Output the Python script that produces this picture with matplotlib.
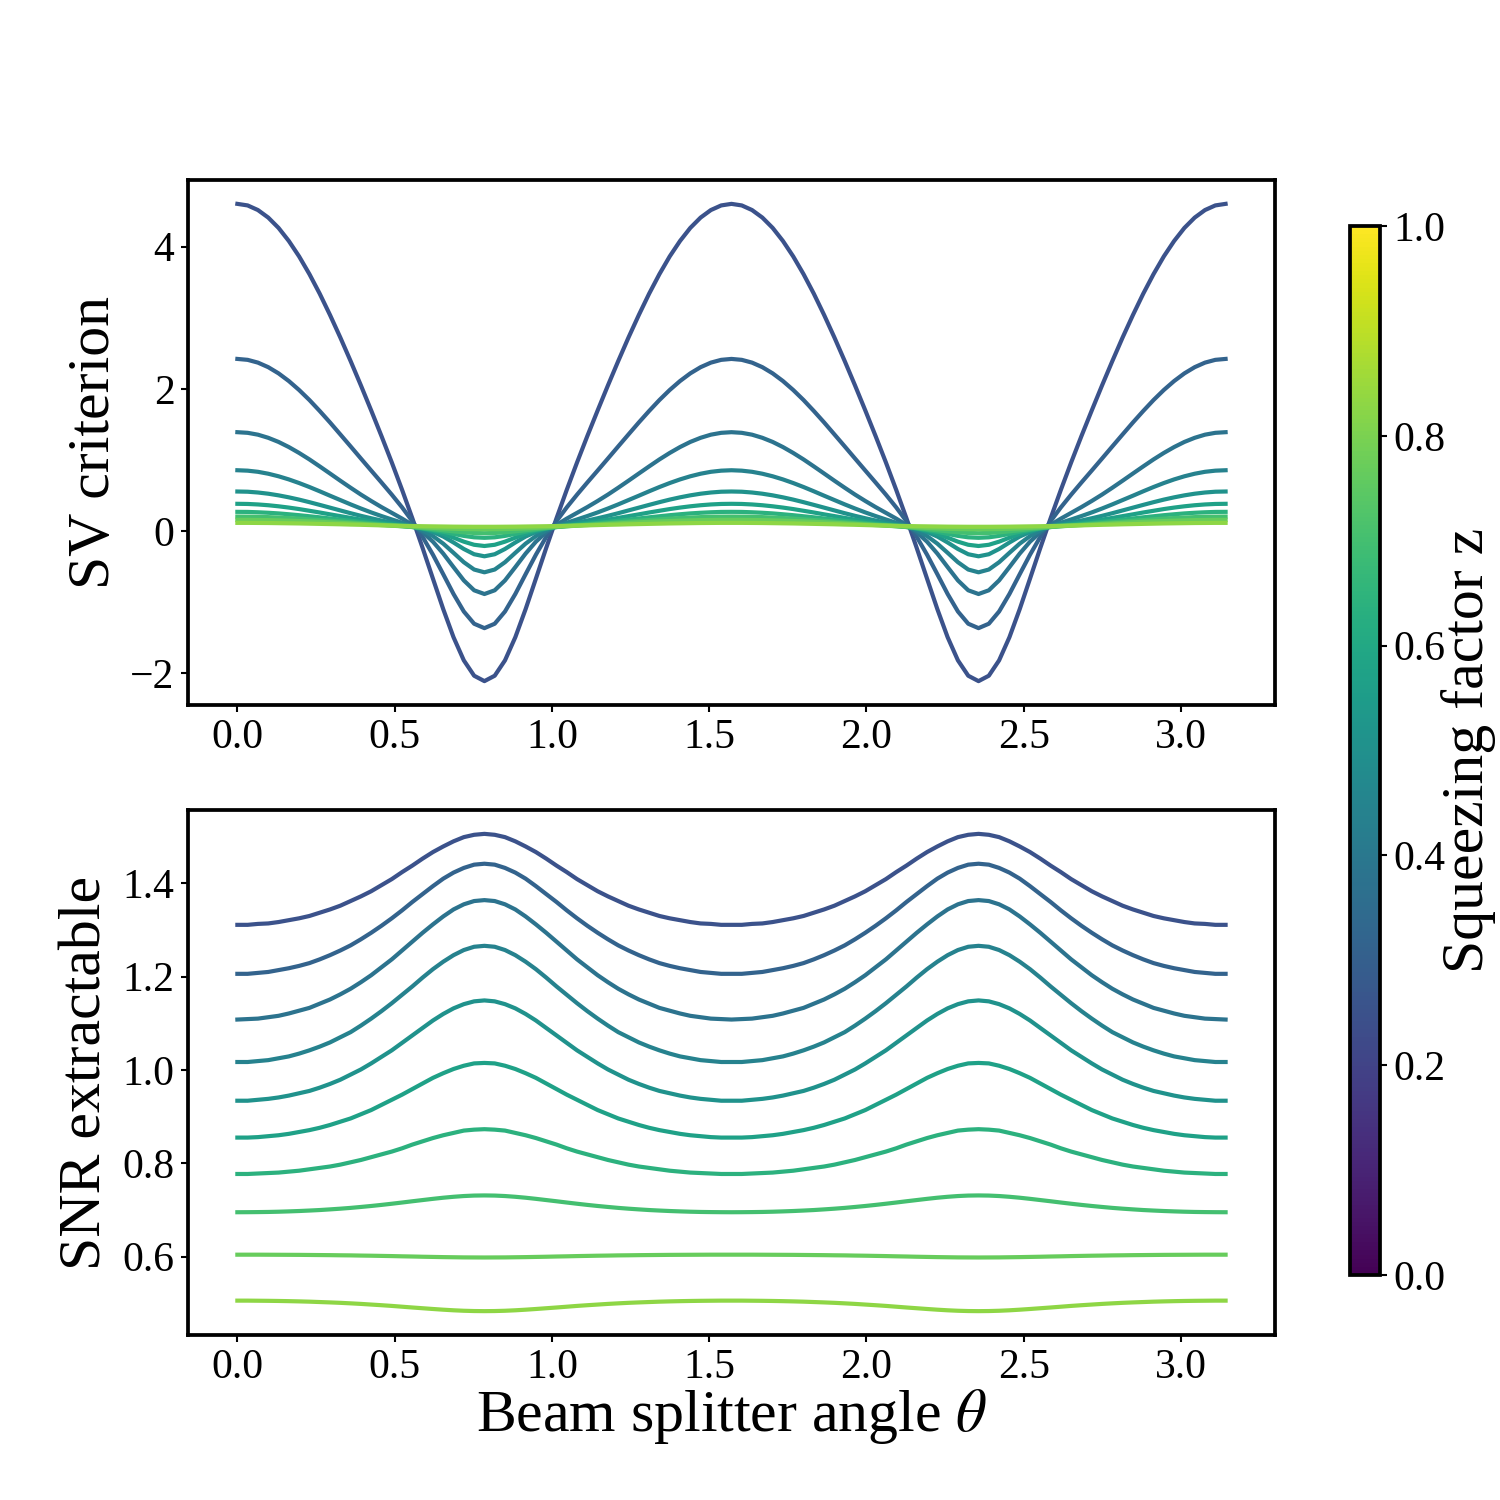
import matplotlib
matplotlib.use("Agg")
import matplotlib.pyplot as plt
from matplotlib.colors import Normalize
from matplotlib.cm import ScalarMappable

# ---------------- data ----------------
# beam splitter angle grid (shared by both panels)
THETA = [0.0000, 0.0327, 0.0654, 0.0982, 0.1309, 0.1636, 0.1963, 0.2291, 0.2618, 0.2945,
         0.3272, 0.3600, 0.3927, 0.4254, 0.4581, 0.4909, 0.5236, 0.5563, 0.5890, 0.6218,
         0.6545, 0.6872, 0.7199, 0.7527, 0.7854, 0.8181, 0.8508, 0.8836, 0.9163, 0.9490,
         0.9817, 1.0145, 1.0472, 1.0799, 1.1126, 1.1454, 1.1781, 1.2108, 1.2435, 1.2763,
         1.3090, 1.3417, 1.3744, 1.4072, 1.4399, 1.4726, 1.5053, 1.5381, 1.5708, 1.6035,
         1.6362, 1.6690, 1.7017, 1.7344, 1.7671, 1.7999, 1.8326, 1.8653, 1.8980, 1.9308,
         1.9635, 1.9962, 2.0289, 2.0617, 2.0944, 2.1271, 2.1598, 2.1926, 2.2253, 2.2580,
         2.2907, 2.3235, 2.3562, 2.3889, 2.4216, 2.4544, 2.4871, 2.5198, 2.5525, 2.5853,
         2.6180, 2.6507, 2.6834, 2.7162, 2.7489, 2.7816, 2.8143, 2.8471, 2.8798, 2.9125,
         2.9452, 2.9780, 3.0107, 3.0434, 3.0761, 3.1089, 3.1416]

# squeezing factor of each curve (sets the colour)
Z_VALUES = [0.25, 0.314, 0.379, 0.443, 0.508, 0.572, 0.637, 0.701, 0.766, 0.83]

SV_1 = [4.600, 4.578, 4.513, 4.407, 4.262, 4.078, 3.861, 3.612, 3.337, 3.038, 2.722, 2.390, 2.048,
        1.696, 1.336, 0.965, 0.580, 0.179, -0.239, -0.670, -1.098, -1.493, -1.818, -2.034, -2.110,
        -2.034, -1.818, -1.493, -1.098, -0.670, -0.239, 0.179, 0.580, 0.965, 1.336, 1.696,
        2.048, 2.390, 2.722, 3.038, 3.337, 3.612, 3.861, 4.078, 4.262, 4.407, 4.513, 4.578, 4.600,
        4.578, 4.513, 4.407, 4.262, 4.078, 3.861, 3.612, 3.337, 3.038, 2.722, 2.390, 2.048,
        1.696, 1.336, 0.965, 0.580, 0.179, -0.239, -0.670, -1.098, -1.493, -1.818, -2.034, -2.110,
        -2.034, -1.818, -1.493, -1.098, -0.670, -0.239, 0.179, 0.580, 0.965, 1.336, 1.696,
        2.048, 2.390, 2.722, 3.038, 3.337, 3.612, 3.861, 4.078, 4.262, 4.407, 4.513, 4.578, 4.600]
SV_2 = [2.420, 2.407, 2.368, 2.304, 2.217, 2.109, 1.983, 1.842, 1.688, 1.527, 1.359, 1.190, 1.020,
        0.851, 0.683, 0.512, 0.333, 0.138, -0.083, -0.333, -0.607, -0.885, -1.131, -1.303, -1.365,
        -1.303, -1.131, -0.885, -0.607, -0.333, -0.083, 0.138, 0.333, 0.512, 0.683, 0.851,
        1.020, 1.190, 1.359, 1.527, 1.688, 1.842, 1.983, 2.109, 2.217, 2.304, 2.368, 2.407, 2.420,
        2.407, 2.368, 2.304, 2.217, 2.109, 1.983, 1.842, 1.688, 1.527, 1.359, 1.190, 1.020,
        0.851, 0.683, 0.512, 0.333, 0.138, -0.083, -0.333, -0.607, -0.885, -1.131, -1.303, -1.365,
        -1.303, -1.131, -0.885, -0.607, -0.333, -0.083, 0.138, 0.333, 0.512, 0.683, 0.851,
        1.020, 1.190, 1.359, 1.527, 1.688, 1.842, 1.983, 2.109, 2.217, 2.304, 2.368, 2.407, 2.420]
SV_3 = [1.390, 1.381, 1.355, 1.311, 1.253, 1.181, 1.098, 1.007, 0.909, 0.809, 0.708, 0.609, 0.513,
        0.423, 0.337, 0.256, 0.175, 0.087, -0.017, -0.150, -0.317, -0.507, -0.694, -0.833, -0.885,
        -0.833, -0.694, -0.507, -0.317, -0.150, -0.017, 0.087, 0.175, 0.256, 0.337, 0.423,
        0.513, 0.609, 0.708, 0.809, 0.909, 1.007, 1.098, 1.181, 1.253, 1.311, 1.355, 1.381, 1.390,
        1.381, 1.355, 1.311, 1.253, 1.181, 1.098, 1.007, 0.909, 0.809, 0.708, 0.609, 0.513,
        0.423, 0.337, 0.256, 0.175, 0.087, -0.017, -0.150, -0.317, -0.507, -0.694, -0.833, -0.885,
        -0.833, -0.694, -0.507, -0.317, -0.150, -0.017, 0.087, 0.175, 0.256, 0.337, 0.423,
        0.513, 0.609, 0.708, 0.809, 0.909, 1.007, 1.098, 1.181, 1.253, 1.311, 1.355, 1.381, 1.390]
SV_4 = [0.855, 0.849, 0.833, 0.806, 0.770, 0.726, 0.675, 0.619, 0.559, 0.497, 0.436, 0.375, 0.317,
        0.262, 0.211, 0.163, 0.117, 0.068, 0.008, -0.071, -0.177, -0.306, -0.438, -0.541, -0.580,
        -0.541, -0.438, -0.306, -0.177, -0.071, 0.008, 0.068, 0.117, 0.163, 0.211, 0.262,
        0.317, 0.375, 0.436, 0.497, 0.559, 0.619, 0.675, 0.726, 0.770, 0.806, 0.833, 0.849, 0.855,
        0.849, 0.833, 0.806, 0.770, 0.726, 0.675, 0.619, 0.559, 0.497, 0.436, 0.375, 0.317,
        0.262, 0.211, 0.163, 0.117, 0.068, 0.008, -0.071, -0.177, -0.306, -0.438, -0.541, -0.580,
        -0.541, -0.438, -0.306, -0.177, -0.071, 0.008, 0.068, 0.117, 0.163, 0.211, 0.262,
        0.317, 0.375, 0.436, 0.497, 0.559, 0.619, 0.675, 0.726, 0.770, 0.806, 0.833, 0.849, 0.855]
SV_5 = [0.556, 0.553, 0.542, 0.525, 0.502, 0.474, 0.442, 0.406, 0.368, 0.329, 0.290, 0.251, 0.214,
        0.180, 0.148, 0.119, 0.091, 0.063, 0.031, -0.014, -0.077, -0.161, -0.252, -0.326, -0.355,
        -0.326, -0.252, -0.161, -0.077, -0.014, 0.031, 0.063, 0.091, 0.119, 0.148, 0.180,
        0.214, 0.251, 0.290, 0.329, 0.368, 0.406, 0.442, 0.474, 0.502, 0.525, 0.542, 0.553, 0.556,
        0.553, 0.542, 0.525, 0.502, 0.474, 0.442, 0.406, 0.368, 0.329, 0.290, 0.251, 0.214,
        0.180, 0.148, 0.119, 0.091, 0.063, 0.031, -0.014, -0.077, -0.161, -0.252, -0.326, -0.355,
        -0.326, -0.252, -0.161, -0.077, -0.014, 0.031, 0.063, 0.091, 0.119, 0.148, 0.180,
        0.214, 0.251, 0.290, 0.329, 0.368, 0.406, 0.442, 0.474, 0.502, 0.525, 0.542, 0.553, 0.556]
SV_6 = [0.383, 0.381, 0.374, 0.363, 0.348, 0.330, 0.309, 0.285, 0.261, 0.235, 0.210, 0.185, 0.161,
        0.138, 0.117, 0.098, 0.079, 0.059, 0.036, 0.004, -0.039, -0.093, -0.149, -0.193, -0.210,
        -0.193, -0.149, -0.093, -0.039, 0.004, 0.036, 0.059, 0.079, 0.098, 0.117, 0.138,
        0.161, 0.185, 0.210, 0.235, 0.261, 0.285, 0.309, 0.330, 0.348, 0.363, 0.374, 0.381, 0.383,
        0.381, 0.374, 0.363, 0.348, 0.330, 0.309, 0.285, 0.261, 0.235, 0.210, 0.185, 0.161,
        0.138, 0.117, 0.098, 0.079, 0.059, 0.036, 0.004, -0.039, -0.093, -0.149, -0.193, -0.210,
        -0.193, -0.149, -0.093, -0.039, 0.004, 0.036, 0.059, 0.079, 0.098, 0.117, 0.138,
        0.161, 0.185, 0.210, 0.235, 0.261, 0.285, 0.309, 0.330, 0.348, 0.363, 0.374, 0.381, 0.383]
SV_7 = [0.270, 0.269, 0.264, 0.257, 0.248, 0.236, 0.223, 0.208, 0.193, 0.177, 0.161, 0.145, 0.129,
        0.114, 0.100, 0.087, 0.073, 0.057, 0.039, 0.016, -0.010, -0.040, -0.068, -0.088, -0.095,
        -0.088, -0.068, -0.040, -0.010, 0.016, 0.039, 0.057, 0.073, 0.087, 0.100, 0.114,
        0.129, 0.145, 0.161, 0.177, 0.193, 0.208, 0.223, 0.236, 0.248, 0.257, 0.264, 0.269, 0.270,
        0.269, 0.264, 0.257, 0.248, 0.236, 0.223, 0.208, 0.193, 0.177, 0.161, 0.145, 0.129,
        0.114, 0.100, 0.087, 0.073, 0.057, 0.039, 0.016, -0.010, -0.040, -0.068, -0.088, -0.095,
        -0.088, -0.068, -0.040, -0.010, 0.016, 0.039, 0.057, 0.073, 0.087, 0.100, 0.114,
        0.129, 0.145, 0.161, 0.177, 0.193, 0.208, 0.223, 0.236, 0.248, 0.257, 0.264, 0.269, 0.270]
SV_8 = [0.204, 0.203, 0.201, 0.196, 0.190, 0.183, 0.175, 0.165, 0.155, 0.145, 0.134, 0.123, 0.112,
        0.101, 0.090, 0.079, 0.068, 0.056, 0.042, 0.027, 0.011, -0.004, -0.018, -0.027, -0.030,
        -0.027, -0.018, -0.004, 0.011, 0.027, 0.042, 0.056, 0.068, 0.079, 0.090, 0.101,
        0.112, 0.123, 0.134, 0.145, 0.155, 0.165, 0.175, 0.183, 0.190, 0.196, 0.201, 0.203, 0.204,
        0.203, 0.201, 0.196, 0.190, 0.183, 0.175, 0.165, 0.155, 0.145, 0.134, 0.123, 0.112,
        0.101, 0.090, 0.079, 0.068, 0.056, 0.042, 0.027, 0.011, -0.004, -0.018, -0.027, -0.030,
        -0.027, -0.018, -0.004, 0.011, 0.027, 0.042, 0.056, 0.068, 0.079, 0.090, 0.101,
        0.112, 0.123, 0.134, 0.145, 0.155, 0.165, 0.175, 0.183, 0.190, 0.196, 0.201, 0.203, 0.204]
SV_9 = [0.158, 0.158, 0.156, 0.154, 0.150, 0.146, 0.141, 0.136, 0.130, 0.123, 0.116, 0.108, 0.100,
        0.092, 0.084, 0.075, 0.067, 0.059, 0.051, 0.044, 0.037, 0.032, 0.028, 0.026, 0.025,
        0.026, 0.028, 0.032, 0.037, 0.044, 0.051, 0.059, 0.067, 0.075, 0.084, 0.092,
        0.100, 0.108, 0.116, 0.123, 0.130, 0.136, 0.141, 0.146, 0.150, 0.154, 0.156, 0.158, 0.158,
        0.158, 0.156, 0.154, 0.150, 0.146, 0.141, 0.136, 0.130, 0.123, 0.116, 0.108, 0.100,
        0.092, 0.084, 0.075, 0.067, 0.059, 0.051, 0.044, 0.037, 0.032, 0.028, 0.026, 0.025,
        0.026, 0.028, 0.032, 0.037, 0.044, 0.051, 0.059, 0.067, 0.075, 0.084, 0.092,
        0.100, 0.108, 0.116, 0.123, 0.130, 0.136, 0.141, 0.146, 0.150, 0.154, 0.156, 0.158, 0.158]
SV_10 = [0.115, 0.115, 0.114, 0.113, 0.111, 0.109, 0.107, 0.104, 0.101, 0.098, 0.095, 0.091, 0.088,
         0.084, 0.080, 0.077, 0.074, 0.071, 0.068, 0.066, 0.064, 0.062, 0.061, 0.060, 0.060,
         0.060, 0.061, 0.062, 0.064, 0.066, 0.068, 0.071, 0.074, 0.077, 0.080, 0.084,
         0.088, 0.091, 0.095, 0.098, 0.101, 0.104, 0.107, 0.109, 0.111, 0.113, 0.114, 0.115, 0.115,
         0.115, 0.114, 0.113, 0.111, 0.109, 0.107, 0.104, 0.101, 0.098, 0.095, 0.091, 0.088,
         0.084, 0.080, 0.077, 0.074, 0.071, 0.068, 0.066, 0.064, 0.062, 0.061, 0.060, 0.060,
         0.060, 0.061, 0.062, 0.064, 0.066, 0.068, 0.071, 0.074, 0.077, 0.080, 0.084,
         0.088, 0.091, 0.095, 0.098, 0.101, 0.104, 0.107, 0.109, 0.111, 0.113, 0.114, 0.115, 0.115]

SNR_1 = [1.311, 1.311, 1.313, 1.314, 1.317, 1.321, 1.325, 1.330, 1.337, 1.344, 1.352, 1.362, 1.372,
         1.383, 1.396, 1.409, 1.424, 1.438, 1.453, 1.467, 1.479, 1.490, 1.499, 1.504, 1.506,
         1.504, 1.499, 1.490, 1.479, 1.467, 1.453, 1.438, 1.424, 1.409, 1.396, 1.383, 1.372,
         1.362, 1.352, 1.344, 1.337, 1.330, 1.325, 1.321, 1.317, 1.314, 1.313, 1.311, 1.311,
         1.311, 1.313, 1.314, 1.317, 1.321, 1.325, 1.330, 1.337, 1.344, 1.352, 1.362, 1.372,
         1.383, 1.396, 1.409, 1.424, 1.438, 1.453, 1.467, 1.479, 1.490, 1.499, 1.504, 1.506,
         1.504, 1.499, 1.490, 1.479, 1.467, 1.453, 1.438, 1.424, 1.409, 1.396, 1.383, 1.372,
         1.362, 1.352, 1.344, 1.337, 1.330, 1.325, 1.321, 1.317, 1.314, 1.313, 1.311, 1.311]
SNR_2 = [1.206, 1.206, 1.208, 1.210, 1.214, 1.218, 1.223, 1.229, 1.237, 1.246, 1.256, 1.267, 1.280,
         1.294, 1.309, 1.325, 1.342, 1.360, 1.377, 1.394, 1.410, 1.423, 1.433, 1.440, 1.442,
         1.440, 1.433, 1.423, 1.410, 1.394, 1.377, 1.360, 1.342, 1.325, 1.309, 1.294, 1.280,
         1.267, 1.256, 1.246, 1.237, 1.229, 1.223, 1.218, 1.214, 1.210, 1.208, 1.206, 1.206,
         1.206, 1.208, 1.210, 1.214, 1.218, 1.223, 1.229, 1.237, 1.246, 1.256, 1.267, 1.280,
         1.294, 1.309, 1.325, 1.342, 1.360, 1.377, 1.394, 1.410, 1.423, 1.433, 1.440, 1.442,
         1.440, 1.433, 1.423, 1.410, 1.394, 1.377, 1.360, 1.342, 1.325, 1.309, 1.294, 1.280,
         1.267, 1.256, 1.246, 1.237, 1.229, 1.223, 1.218, 1.214, 1.210, 1.208, 1.206, 1.206]
SNR_3 = [1.108, 1.109, 1.110, 1.113, 1.116, 1.121, 1.127, 1.133, 1.142, 1.151, 1.162, 1.174, 1.188,
         1.203, 1.220, 1.237, 1.256, 1.275, 1.294, 1.312, 1.329, 1.344, 1.355, 1.362, 1.364,
         1.362, 1.355, 1.344, 1.329, 1.312, 1.294, 1.275, 1.256, 1.237, 1.220, 1.203, 1.188,
         1.174, 1.162, 1.151, 1.142, 1.133, 1.127, 1.121, 1.116, 1.113, 1.110, 1.109, 1.108,
         1.109, 1.110, 1.113, 1.116, 1.121, 1.127, 1.133, 1.142, 1.151, 1.162, 1.174, 1.188,
         1.203, 1.220, 1.237, 1.256, 1.275, 1.294, 1.312, 1.329, 1.344, 1.355, 1.362, 1.364,
         1.362, 1.355, 1.344, 1.329, 1.312, 1.294, 1.275, 1.256, 1.237, 1.220, 1.203, 1.188,
         1.174, 1.162, 1.151, 1.142, 1.133, 1.127, 1.121, 1.116, 1.113, 1.110, 1.109, 1.108]
SNR_4 = [1.017, 1.017, 1.019, 1.021, 1.025, 1.029, 1.035, 1.042, 1.050, 1.059, 1.070, 1.081, 1.095,
         1.110, 1.126, 1.143, 1.161, 1.179, 1.198, 1.216, 1.232, 1.246, 1.257, 1.264, 1.266,
         1.264, 1.257, 1.246, 1.232, 1.216, 1.198, 1.179, 1.161, 1.143, 1.126, 1.110, 1.095,
         1.081, 1.070, 1.059, 1.050, 1.042, 1.035, 1.029, 1.025, 1.021, 1.019, 1.017, 1.017,
         1.017, 1.019, 1.021, 1.025, 1.029, 1.035, 1.042, 1.050, 1.059, 1.070, 1.081, 1.095,
         1.110, 1.126, 1.143, 1.161, 1.179, 1.198, 1.216, 1.232, 1.246, 1.257, 1.264, 1.266,
         1.264, 1.257, 1.246, 1.232, 1.216, 1.198, 1.179, 1.161, 1.143, 1.126, 1.110, 1.095,
         1.081, 1.070, 1.059, 1.050, 1.042, 1.035, 1.029, 1.025, 1.021, 1.019, 1.017, 1.017]
SNR_5 = [0.934, 0.934, 0.936, 0.938, 0.941, 0.945, 0.950, 0.955, 0.962, 0.970, 0.979, 0.990, 1.001,
         1.014, 1.028, 1.042, 1.058, 1.074, 1.090, 1.106, 1.120, 1.132, 1.141, 1.147, 1.149,
         1.147, 1.141, 1.132, 1.120, 1.106, 1.090, 1.074, 1.058, 1.042, 1.028, 1.014, 1.001,
         0.990, 0.979, 0.970, 0.962, 0.955, 0.950, 0.945, 0.941, 0.938, 0.936, 0.934, 0.934,
         0.934, 0.936, 0.938, 0.941, 0.945, 0.950, 0.955, 0.962, 0.970, 0.979, 0.990, 1.001,
         1.014, 1.028, 1.042, 1.058, 1.074, 1.090, 1.106, 1.120, 1.132, 1.141, 1.147, 1.149,
         1.147, 1.141, 1.132, 1.120, 1.106, 1.090, 1.074, 1.058, 1.042, 1.028, 1.014, 1.001,
         0.990, 0.979, 0.970, 0.962, 0.955, 0.950, 0.945, 0.941, 0.938, 0.936, 0.934, 0.934]
SNR_6 = [0.855, 0.855, 0.856, 0.858, 0.860, 0.863, 0.867, 0.871, 0.876, 0.882, 0.889, 0.896, 0.905,
         0.914, 0.925, 0.936, 0.947, 0.959, 0.971, 0.983, 0.993, 1.002, 1.009, 1.014, 1.015,
         1.014, 1.009, 1.002, 0.993, 0.983, 0.971, 0.959, 0.947, 0.936, 0.925, 0.914, 0.905,
         0.896, 0.889, 0.882, 0.876, 0.871, 0.867, 0.863, 0.860, 0.858, 0.856, 0.855, 0.855,
         0.855, 0.856, 0.858, 0.860, 0.863, 0.867, 0.871, 0.876, 0.882, 0.889, 0.896, 0.905,
         0.914, 0.925, 0.936, 0.947, 0.959, 0.971, 0.983, 0.993, 1.002, 1.009, 1.014, 1.015,
         1.014, 1.009, 1.002, 0.993, 0.983, 0.971, 0.959, 0.947, 0.936, 0.925, 0.914, 0.905,
         0.896, 0.889, 0.882, 0.876, 0.871, 0.867, 0.863, 0.860, 0.858, 0.856, 0.855, 0.855]
SNR_7 = [0.777, 0.777, 0.778, 0.779, 0.780, 0.782, 0.784, 0.787, 0.790, 0.793, 0.797, 0.802, 0.807,
         0.813, 0.819, 0.825, 0.832, 0.840, 0.847, 0.854, 0.860, 0.865, 0.870, 0.872, 0.873,
         0.872, 0.870, 0.865, 0.860, 0.854, 0.847, 0.840, 0.832, 0.825, 0.819, 0.813, 0.807,
         0.802, 0.797, 0.793, 0.790, 0.787, 0.784, 0.782, 0.780, 0.779, 0.778, 0.777, 0.777,
         0.777, 0.778, 0.779, 0.780, 0.782, 0.784, 0.787, 0.790, 0.793, 0.797, 0.802, 0.807,
         0.813, 0.819, 0.825, 0.832, 0.840, 0.847, 0.854, 0.860, 0.865, 0.870, 0.872, 0.873,
         0.872, 0.870, 0.865, 0.860, 0.854, 0.847, 0.840, 0.832, 0.825, 0.819, 0.813, 0.807,
         0.802, 0.797, 0.793, 0.790, 0.787, 0.784, 0.782, 0.780, 0.779, 0.778, 0.777, 0.777]
SNR_8 = [0.6950, 0.6951, 0.6953, 0.6956, 0.6961, 0.6968, 0.6976, 0.6986, 0.6997, 0.7011, 0.7026, 0.7043,
         0.7063, 0.7084, 0.7107, 0.7132, 0.7158, 0.7185, 0.7211, 0.7237, 0.7261, 0.7281, 0.7297, 0.7307,
         0.7310,
         0.7307, 0.7297, 0.7281, 0.7261, 0.7237, 0.7211, 0.7185, 0.7158, 0.7132, 0.7107, 0.7084, 0.7063,
         0.7043, 0.7026, 0.7011, 0.6997, 0.6986, 0.6976, 0.6968, 0.6961, 0.6956, 0.6953, 0.6951, 0.6950,
         0.6951, 0.6953, 0.6956, 0.6961, 0.6968, 0.6976, 0.6986, 0.6997, 0.7011, 0.7026, 0.7043, 0.7063,
         0.7084, 0.7107, 0.7132, 0.7158, 0.7185, 0.7211, 0.7237, 0.7261, 0.7281, 0.7297, 0.7307, 0.7310,
         0.7307, 0.7297, 0.7281, 0.7261, 0.7237, 0.7211, 0.7185, 0.7158, 0.7132, 0.7107, 0.7084, 0.7063,
         0.7043, 0.7026, 0.7011, 0.6997, 0.6986, 0.6976, 0.6968, 0.6961, 0.6956, 0.6953, 0.6951, 0.6950]
SNR_9 = [0.6040, 0.6040, 0.6040, 0.6039, 0.6038, 0.6037, 0.6036, 0.6034, 0.6032, 0.6030, 0.6027, 0.6025,
         0.6021, 0.6018, 0.6014, 0.6010, 0.6005, 0.6001, 0.5996, 0.5992, 0.5988, 0.5985, 0.5982, 0.5981,
         0.5980,
         0.5981, 0.5982, 0.5985, 0.5988, 0.5992, 0.5996, 0.6001, 0.6005, 0.6010, 0.6014, 0.6018, 0.6021,
         0.6025, 0.6027, 0.6030, 0.6032, 0.6034, 0.6036, 0.6037, 0.6038, 0.6039, 0.6040, 0.6040, 0.6040,
         0.6040, 0.6040, 0.6039, 0.6038, 0.6037, 0.6036, 0.6034, 0.6032, 0.6030, 0.6027, 0.6025, 0.6021,
         0.6018, 0.6014, 0.6010, 0.6005, 0.6001, 0.5996, 0.5992, 0.5988, 0.5985, 0.5982, 0.5981, 0.5980,
         0.5981, 0.5982, 0.5985, 0.5988, 0.5992, 0.5996, 0.6001, 0.6005, 0.6010, 0.6014, 0.6018, 0.6021,
         0.6025, 0.6027, 0.6030, 0.6032, 0.6034, 0.6036, 0.6037, 0.6038, 0.6039, 0.6040, 0.6040, 0.6040]
SNR_10 = [0.5055, 0.5055, 0.5053, 0.5051, 0.5048, 0.5044, 0.5039, 0.5033, 0.5025, 0.5017, 0.5008, 0.4997,
          0.4985, 0.4971, 0.4957, 0.4942, 0.4925, 0.4908, 0.4892, 0.4876, 0.4861, 0.4848, 0.4838, 0.4832,
          0.4830,
          0.4832, 0.4838, 0.4848, 0.4861, 0.4876, 0.4892, 0.4908, 0.4925, 0.4942, 0.4957, 0.4971, 0.4985,
          0.4997, 0.5008, 0.5017, 0.5025, 0.5033, 0.5039, 0.5044, 0.5048, 0.5051, 0.5053, 0.5055, 0.5055,
          0.5055, 0.5053, 0.5051, 0.5048, 0.5044, 0.5039, 0.5033, 0.5025, 0.5017, 0.5008, 0.4997, 0.4985,
          0.4971, 0.4957, 0.4942, 0.4925, 0.4908, 0.4892, 0.4876, 0.4861, 0.4848, 0.4838, 0.4832, 0.4830,
          0.4832, 0.4838, 0.4848, 0.4861, 0.4876, 0.4892, 0.4908, 0.4925, 0.4942, 0.4957, 0.4971, 0.4985,
          0.4997, 0.5008, 0.5017, 0.5025, 0.5033, 0.5039, 0.5044, 0.5048, 0.5051, 0.5053, 0.5055, 0.5055]

SV_SERIES = [SV_1, SV_2, SV_3, SV_4, SV_5, SV_6, SV_7, SV_8, SV_9, SV_10]
SNR_SERIES = [SNR_1, SNR_2, SNR_3, SNR_4, SNR_5, SNR_6, SNR_7, SNR_8, SNR_9, SNR_10]

X_TICKS = [0.0, 0.5, 1.0, 1.5, 2.0, 2.5, 3.0]
SV_TICKS = [-2, 0, 2, 4]
SNR_TICKS = [0.6, 0.8, 1.0, 1.2, 1.4]
CBAR_TICKS = [0.0, 0.2, 0.4, 0.6, 0.8, 1.0]

SV_LABEL = "SV criterion"
SNR_LABEL = "SNR extractable"
X_LABEL = r"Beam splitter angle $\theta$"
CBAR_LABEL = "Squeezing factor z"

# ---------------- style ----------------
plt.rcParams["font.family"] = ["Liberation Serif", "DejaVu Serif"]
plt.rcParams["mathtext.fontset"] = "stix"

LABEL_FS = 28.7
TICK_FS = 20
LW = 2.0
SPINE_LW = 1.8

cmap = plt.get_cmap("viridis")
norm = Normalize(vmin=0.0, vmax=1.0)

fig = plt.figure(figsize=(10, 10), dpi=150)
ax1 = fig.add_axes([0.1253, 0.53, 0.7247, 0.35])
ax2 = fig.add_axes([0.1253, 0.11, 0.7247, 0.35])
cax = fig.add_axes([0.9, 0.15, 0.02, 0.6993])

for z, ys in zip(Z_VALUES, SV_SERIES):
    ax1.plot(THETA, ys, color=cmap(norm(z)), lw=LW)
for z, ys in zip(Z_VALUES, SNR_SERIES):
    ax2.plot(THETA, ys, color=cmap(norm(z)), lw=LW)

ax1.set_yticks(SV_TICKS)
ax2.set_yticks(SNR_TICKS)
for ax in (ax1, ax2):
    ax.set_xticks(X_TICKS)
    ax.tick_params(labelsize=TICK_FS, width=1.0, length=3.5, pad=3)
    for sp in ax.spines.values():
        sp.set_linewidth(SPINE_LW)

ax1.set_ylabel(SV_LABEL, fontsize=LABEL_FS)
ax2.set_ylabel(SNR_LABEL, fontsize=LABEL_FS)
ax2.set_xlabel(X_LABEL, fontsize=LABEL_FS, labelpad=0)

sm = ScalarMappable(norm=norm, cmap=cmap)
cb = fig.colorbar(sm, cax=cax)
cb.set_ticks(CBAR_TICKS)
cb.ax.tick_params(labelsize=TICK_FS, width=1.0, length=3.5, pad=3)
cb.outline.set_linewidth(SPINE_LW)
cb.set_label(CBAR_LABEL, fontsize=LABEL_FS, labelpad=-2)

fig.savefig("out.png", dpi=150)
